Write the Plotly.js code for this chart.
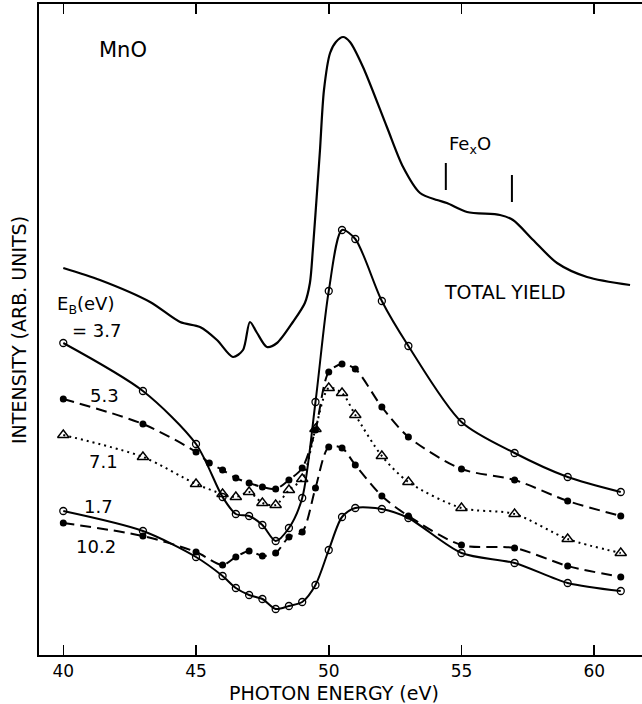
<!DOCTYPE html>
<html><head><meta charset="utf-8">
<script src="https://cdn.plot.ly/plotly-3.0.1.min.js"></script>
<style>body{margin:0;background:#fff}#c{width:642px;height:704px}</style>
</head><body><div id="c"></div>
<script>
// Photon energy (eV) and intensities (arbitrary units)
const totalX = [40.0,41.38,43.27,44.40,45.15,45.79,46.39,46.77,47.03,47.30,47.67,48.05,48.65,49.10,49.29,49.40,49.59,49.67,49.82,50.05,50.27,50.54,50.80,51.29,52.19,52.80,53.44,54.08,54.45,55.21,56.45,56.94,57.70,58.60,59.73,61.35];
const totalY = [387,375,353,333,328,315,298,305,333,322,308,312,333,352,372,405,475,505,565,602,613,618,613,588,528,488,462,455,452,443,440,435,415,392,378,370];

const eX = [40,43,45,46,46.5,47,47.5,48,48.5,49,49.5,50,50.5,51,52,53,55,57,59,61];
const e37 = [312,264,211,158,141,139,130,114,127,157,253,364,425,416,354,309,233,202,178,163];
const e17 = [144,124,98,79,67,60,56,46,49,53,70,105,138,147,146,137,102,92,72,64];
const e71 = [220,198,171,161,158,163,152,150,165,176,226,267,262,240,199,173,147,141,116,102];
const e102 = [132,119,103,90,98,104,99,102,118,123,167,208,207,190,159,139,110,107,89,78];

const e53X = [40,43,45,45.5,46,46.5,47,47.5,48,48.5,49,49.5,50,50.5,51,52,53,55,57,59,61];
const e53 = [256,231,203,192,185,177,172,168,166,175,187,225,283,291,286,248,218,186,175,154,139];

const FONT = 'DejaVu Sans, Verdana, sans-serif';
const openCircle = {symbol:'circle-open', size:7, color:'#000', line:{width:1.3,color:'#000'}};
const filled = {symbol:'circle', size:7, color:'#000'};
const tri = {symbol:'triangle-up-open', size:10, color:'#000', line:{width:1.4,color:'#000'}};

const traces = [
  {x:totalX, y:totalY, mode:'lines', line:{color:'#000', width:2.2, shape:'spline', smoothing:0.8}},
  {x:eX, y:e37, mode:'lines+markers', line:{color:'#000', width:2, shape:'spline', smoothing:0.8}, marker:openCircle},
  {x:e53X, y:e53, mode:'lines+markers', line:{color:'#000', width:2, dash:'11px,6px', shape:'spline', smoothing:0.8}, marker:filled},
  {x:eX, y:e71, mode:'lines+markers', line:{color:'#000', width:2, dash:'2px,4px', shape:'spline', smoothing:0.8}, marker:tri},
  {x:eX, y:e17, mode:'lines+markers', line:{color:'#000', width:2, shape:'spline', smoothing:0.8}, marker:openCircle},
  {x:eX, y:e102, mode:'lines+markers', line:{color:'#000', width:2, dash:'11px,6px', shape:'spline', smoothing:0.8}, marker:filled}
];

function txt(x,y,t,size,anchor){return {x:x,y:y,xref:'x',yref:'y',text:t,showarrow:false,font:{family:FONT,size:size,color:'#000'},xanchor:anchor||'center',yanchor:'middle'};}

const layout = {
  width:642, height:704,
  margin:{l:39, r:0, t:4, b:49},
  paper_bgcolor:'#fff', plot_bgcolor:'#fff',
  showlegend:false,
  xaxis:{range:[39.085,61.8], tickvals:[40,45,50,55,60], ticks:'inside', ticklen:10, tickwidth:1.5, tickcolor:'#000',
         showline:true, linecolor:'#000', linewidth:2, mirror:'ticks', showgrid:false, zeroline:false,
         tickfont:{family:FONT, size:17, color:'#000'}},
  yaxis:{range:[0,651], showticklabels:false, ticks:'', showline:true, linecolor:'#000', linewidth:2, showgrid:false, zeroline:false},
  annotations:[
    txt(42.25,605,'MnO',21),
    txt(55.32,510,'Fe<sub>x</sub>O',18),
    txt(56.64,363,'TOTAL YIELD',19),
    txt(39.69,350,'E<sub>B</sub>(eV)',18,'left'),
    txt(40.25,325,'= 3.7',18,'left'),
    txt(41.54,260,'5.3',18),
    txt(41.50,194,'7.1',18),
    txt(41.31,149,'1.7',18),
    txt(41.24,109,'10.2',18),
    {x:0.49, y:-0.0585, xref:'paper', yref:'paper', text:'PHOTON ENERGY (eV)', showarrow:false, font:{family:FONT,size:19,color:'#000'}, xanchor:'center', yanchor:'middle'},
    {x:-0.034, y:0.5, xref:'paper', yref:'paper', text:'INTENSITY (ARB. UNITS)', textangle:-90, showarrow:false, font:{family:FONT,size:19,color:'#000'}, xanchor:'center', yanchor:'middle'}
  ],
  shapes:[
    {type:'line', xref:'x', yref:'y', x0:54.41, x1:54.41, y0:465, y1:492, line:{color:'#000', width:2}},
    {type:'line', xref:'x', yref:'y', x0:56.90, x1:56.90, y0:453, y1:480, line:{color:'#000', width:2}}
  ]
};
Plotly.newPlot('c', traces, layout, {staticPlot:true});
</script></body></html>
